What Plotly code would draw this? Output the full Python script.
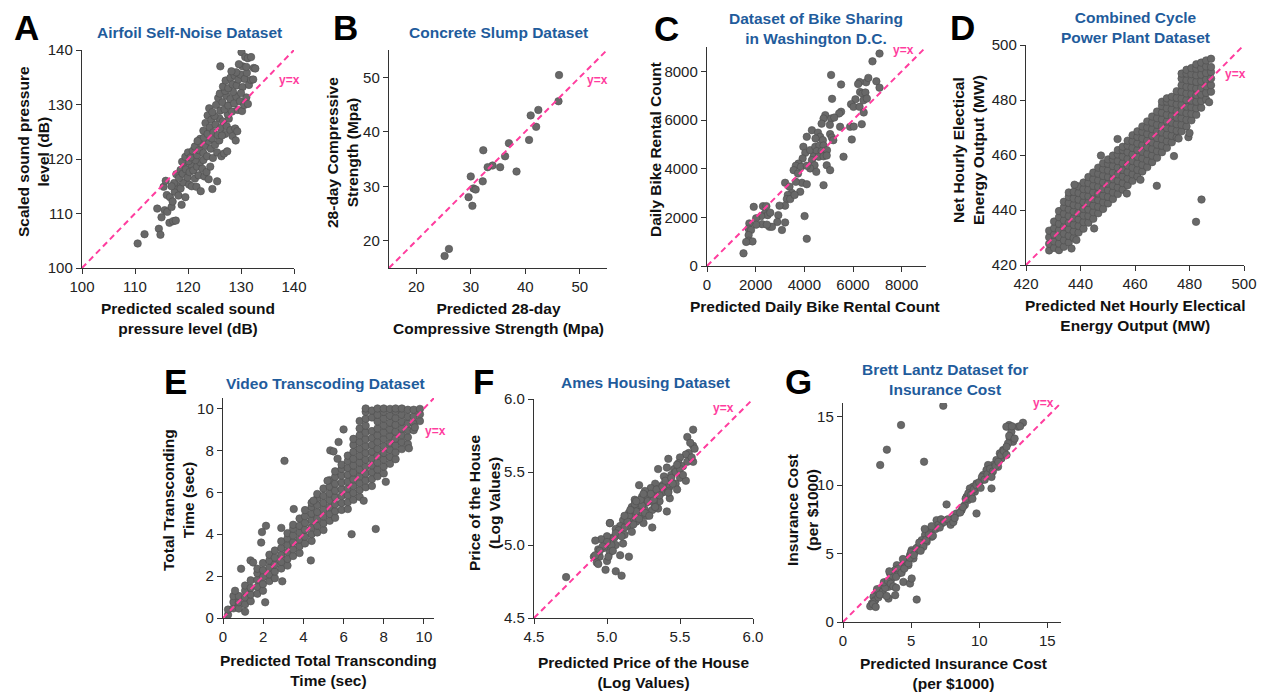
import plotly.graph_objects as go

W, H = 1267, 694
OFF = 8  # the page places the figure 8px in from the top-left corner
PINK = '#ff3d9e'
BLUE = '#1f5c9c'
FONT = 'Liberation Sans, Arial, Helvetica, sans-serif'

# ---------------- A: Airfoil Self-Noise ----------------
A_x = [110.5,111.8,114.5,114.8,
       114.2,115.0,115.6,116.1,116.5,117.2,117.7,118.8,116.9,
       115.4,115.8,116.0,116.6,117.1,117.5,117.9,118.2,118.6,119.1,119.5,120.2,120.7,121.6,122.4,124.6,125.5,117.4,116.9,
       117.8,118.3,118.6,119.0,119.2,119.6,119.9,120.3,120.6,121.0,121.3,121.7,122.0,122.3,122.7,123.1,123.5,123.9,120.1,121.4,118.9,122.9,124.2,
       119.5,120.0,120.5,120.9,121.3,121.7,122.1,122.5,122.9,123.3,123.6,123.9,124.3,124.7,125.1,125.5,125.9,126.3,126.8,127.4,122.3,123.0,124.5,121.8,
       122.9,123.3,123.7,123.7,124.1,124.4,124.8,125.2,125.6,125.9,126.2,126.6,127.0,127.3,127.7,128.0,128.4,128.9,129.3,129.0,125.0,126.4,127.5,
       124.0,124.6,125.3,125.7,126.1,126.5,126.9,127.2,127.6,128.0,128.3,128.7,129.1,129.4,129.8,130.2,130.6,131.0,131.3,126.0,127.0,128.5,
       126.6,127.1,127.6,128.0,128.4,128.8,129.2,129.5,129.9,130.3,130.7,131.1,131.5,130.0,131.9,129.1,128.2,132.3,
       126.1,130.1,130.8,131.3,131.9,132.4,132.7,130.3,129.6,131.0]
A_y = [104.5,106.2,107.2,106.1,
       110.9,109.3,110.6,110.3,108.3,108.6,108.7,111.6,111.2,
       114.9,116.0,113.4,113.0,112.2,114.0,115.1,113.3,114.6,115.7,113.0,115.3,115.0,114.9,114.1,114.5,115.9,115.6,115.0,
       117.2,116.5,118.0,117.3,119.2,118.1,116.6,117.6,119.0,117.9,116.4,118.6,117.0,119.4,118.2,116.8,117.6,116.3,119.6,119.8,119.5,119.8,118.6,
       120.4,121.2,120.3,121.5,122.3,120.7,121.6,122.8,121.1,122.4,120.5,123.3,121.9,120.2,122.6,121.2,123.4,120.5,121.0,121.4,123.7,123.9,123.8,123.3,
       125.2,126.6,124.6,128.0,125.8,127.2,124.9,126.3,124.4,127.5,125.7,126.9,124.6,126.0,127.4,125.3,124.2,125.6,125.1,123.4,127.9,124.3,128.2,
       129.3,128.6,129.9,131.2,128.9,130.4,129.1,131.6,129.8,131.0,128.7,130.2,131.5,129.0,130.6,128.8,129.9,131.3,130.1,132.0,132.5,132.3,
       133.3,134.4,133.0,134.9,133.7,135.3,133.5,134.6,135.5,133.2,134.7,135.8,133.6,132.1,134.5,135.9,136.1,134.6,
       137.0,139.6,138.7,138.5,138.7,136.7,136.6,137.0,137.4,136.9]

# ---------------- B: Concrete Slump ----------------
B_x = [46.2,46.1,42.4,41.0,42.0,40.7,37.0,36.3,32.3,34.0,33.1,35.4,38.4,32.2,30.0,30.5,30.9,29.6,30.3,26.0,25.2]
B_y = [50.4,45.6,44.0,43.0,40.9,38.5,37.9,35.5,36.6,33.8,33.5,33.5,32.7,30.9,31.8,29.6,29.4,28.0,26.4,18.5,17.2]

# ---------------- C: Bike Sharing ----------------
C_x = [7090,6800,5100,6540,6270,6210,6960,6630,5510,7090,
       5140,6290,6390,6510,6100,5920,6430,6570,6020,6270,6440,6360,5880,6030,5950,5610,
       5510,5430,4860,4790,5100,5230,5050,5470,4710,4310,4100,4560,4650,4460,4760,5060,5130,5190,
       3960,4040,4240,4450,4620,4790,4510,4710,4930,4380,4590,4790,4920,4310,4420,4240,4490,4920,5060,
       3930,3760,3650,3860,3560,3740,4100,4790,3900,4100,3650,3210,3390,3490,3320,3280,3420,3830,3600,3210,4010,4100,
       2980,2930,3210,3080,2890,2570,2670,2380,2490,2600,2300,2440,2230,2020,2260,2020,2460,1920,1740,1710,1810,1710,1710,1870,1610,1500]
C_y = [8730,8410,7850,7550,7560,7480,7590,7730,7460,7330,
       6870,7150,7090,7130,6850,6650,6810,6880,6540,6540,6310,5830,5720,5730,5200,4490,
       6340,6270,6200,6060,6060,6100,5800,5720,5850,5580,5310,5480,5310,5240,5170,5420,5280,5170,
       4900,4650,4760,4900,4950,4950,4720,4720,4760,4490,4490,4510,4540,4350,4140,4010,3870,4140,3940,
       4420,4210,4120,4080,3940,3800,4120,3320,3420,3360,3460,3420,3260,3000,2920,2750,2750,3050,2920,2480,2050,1120,
       2480,2090,1790,1480,1810,1610,1610,2160,2090,2190,2460,2460,2050,1960,1720,1700,1700,2430,1750,1530,1480,1270,1040,1010,990,520]

# ---------------- D: Combined Cycle Power Plant (columns of the dense band) ----------------
D_col_x = [428.5,430.3,432.1,433.9,435.7,437.5,439.3,441.1,442.9,444.7,446.5,448.3,450.1,451.9,453.7,455.5,457.3,
           459.1,460.9,462.7,464.5,466.3,468.1,469.9,471.7,473.5,475.3,477.1,478.9,480.7,482.5,484.3,486.1,487.9]
D_col_y = [
    [425.3,427.7,430.1,432.5],
    [426.2,428.6,431.0,433.4,435.8],
    [425.4,427.8,430.2,432.6,435.0,437.4,439.6],
    [426.6,429.0,431.4,433.8,436.2,438.6,441.0,443.0],
    [428.2,430.6,433.0,435.4,437.8,440.2,442.6,444.8,446.4],
    [429.8,432.2,434.6,437.0,439.4,441.8,444.2,446.6],
    [431.8,434.2,436.6,439.0,441.4,443.8,446.2,448.6],
    [433.2,435.6,438.0,440.4,442.8,445.2,447.6,450.0],
    [435.4,437.8,440.2,442.6,445.0,447.4,449.8,452.0],
    [436.8,439.2,441.6,444.0,446.4,448.8,451.2,453.6],
    [438.8,441.2,443.6,446.0,448.4,450.8,453.2,455.4],
    [440.4,442.8,445.2,447.6,450.0,452.4,454.8,457.0],
    [442.4,444.8,447.2,449.6,452.0,454.4,456.8,458.4],
    [444.0,446.4,448.8,451.2,453.6,456.0,458.4,459.8],
    [445.8,448.2,450.6,453.0,455.4,457.8,460.2,461.8],
    [447.4,449.8,452.2,454.6,457.0,459.4,461.8,463.0],
    [449.0,451.4,453.8,456.2,458.6,461.0,463.4,465.2],
    [450.6,453.0,455.4,457.8,460.2,462.6,465.0,467.2],
    [452.2,454.6,457.0,459.4,461.8,464.2,466.6,468.6],
    [454.0,456.4,458.8,461.2,463.6,466.0,468.4,470.4],
    [455.6,458.0,460.4,462.8,465.2,467.6,470.0,472.2],
    [457.4,459.8,462.2,464.6,467.0,469.4,471.8,474.0],
    [459.0,461.4,463.8,466.2,468.6,471.0,473.4,475.8],
    [461.0,463.4,465.8,468.2,470.6,473.0,475.4,477.8,479.4],
    [462.6,465.0,467.4,469.8,472.2,474.6,477.0,479.4,480.6],
    [464.6,467.0,469.4,471.8,474.2,476.6,479.0,481.2],
    [466.4,468.8,471.2,473.6,476.0,478.4,480.8,483.2],
    [468.6,471.0,473.4,475.8,478.2,480.6,483.0,485.4,487.8,489.6],
    [470.4,472.8,475.2,477.6,480.0,482.4,484.8,487.2,489.6,491.0],
    [472.6,475.0,477.4,479.8,482.2,484.6,487.0,489.4,491.6],
    [474.6,477.0,479.4,481.8,484.2,486.6,489.0,491.4,493.0],
    [477.2,479.6,482.0,484.4,486.8,489.2,491.6,493.6],
    [480.2,482.6,485.0,487.4,489.8,492.2,494.4],
    [483.0,485.4,487.8,490.2,492.0,495.0],
]
D_out_x = [447.5,445.0,468.0,474.3,479.6,480.0,482.4,484.4,437.8,453.6,436.7,438.5,457.0,462.0,487.2,476.0]
D_out_y = [459.8,433.3,448.8,459.6,466.5,468.0,435.7,443.8,449.2,465.8,426.0,429.1,446.0,451.0,479.2,466.0]

# ---------------- E: Video Transcoding (columns of the dense band) ----------------
E_col_x = [0.25,0.52,0.79,1.10,1.38,1.71,1.99,2.31,2.58,2.90,3.21,3.49,3.81,4.08,4.41,4.69,5.00,
           5.31,5.58,5.90,6.21,6.49,6.80,7.10,7.41,7.69,8.00,8.31,8.59,8.90,9.20,9.49,9.80]
E_col_y = [
    [0.15,0.40],
    [0.46,0.76,1.05],
    [0.45,0.75,1.05],
    [0.66,0.98,1.30,1.55],
    [0.80,1.12,1.44,1.80],
    [1.16,1.49,1.82,2.14,2.35],
    [1.30,1.62,1.95,2.28,2.62],
    [1.76,2.08,2.41,2.74,3.02],
    [1.90,2.22,2.55,2.88,3.22],
    [2.36,2.68,3.01,3.34,3.66],
    [2.50,2.82,3.15,3.48,3.80,4.05],
    [2.96,3.28,3.61,3.94,4.26,4.45],
    [3.10,3.42,3.75,4.08,4.40,4.75],
    [3.56,3.88,4.21,4.54,4.86,5.15],
    [3.68,4.00,4.33,4.66,4.98,5.30,5.50],
    [4.08,4.41,4.74,5.06,5.39,5.72,5.92],
    [4.20,4.52,4.85,5.18,5.50,5.83,6.18],
    [4.64,4.96,5.29,5.62,5.94,6.27,6.58],
    [4.78,5.10,5.43,5.76,6.08,6.41,6.74,7.00],
    [5.16,5.49,5.82,6.14,6.47,6.80,7.12,7.32],
    [5.20,5.53,5.86,6.18,6.51,6.84,7.16,7.49,7.75],
    [5.64,5.97,6.30,6.62,6.95,7.28,7.60,7.93,8.26,8.55],
    [5.78,6.11,6.44,6.76,7.09,7.42,7.74,8.07,8.40,8.72,9.05,9.40],
    [6.24,6.57,6.90,7.22,7.55,7.88,8.20,8.53,8.86,9.18,9.51,9.84,10.0],
    [6.30,6.63,6.96,7.28,7.61,7.94,8.26,8.59,8.92,9.57,9.90],
    [6.76,7.09,7.42,7.74,8.07,8.40,8.72,9.05,9.38,9.70,10.0],
    [6.90,7.23,7.56,7.88,8.21,8.54,8.86,9.19,9.52,9.84,10.0],
    [7.36,7.69,8.02,8.34,8.67,9.00,9.32,9.65,9.98],
    [7.58,7.91,8.24,8.56,8.89,9.22,9.54,9.87,10.0],
    [8.06,8.39,8.72,9.04,9.37,9.70,10.0],
    [8.30,8.63,8.96,9.28,9.61,9.94],
    [8.96,9.29,9.62,9.94],
    [9.40,9.72,9.98],
]
E_out_x = [3.06,6.00,5.75,5.34,5.50,5.70,3.52,2.14,1.94,1.90,2.90,7.60,6.40,2.10,1.37,1.50,0.90,0.60,9.25,9.55,4.37,2.95,4.50,5.20,7.00,8.10,1.10]
E_out_y = [7.50,9.00,8.40,8.00,7.95,7.60,5.20,4.40,4.10,3.60,4.30,4.25,4.00,0.75,2.75,2.65,2.35,1.30,8.10,9.10,2.75,1.75,5.60,6.55,5.60,6.50,0.30]

# ---------------- F: Ames Housing ----------------
F_x = [5.59,5.55,5.59,5.56,5.54,5.59,5.50,5.49,5.42,5.52,5.46,5.41,5.35,5.39,5.44,5.50,5.54,5.47,5.43,5.38,
       5.33,5.34,5.30,5.26,5.22,5.24,5.28,5.33,5.38,5.42,5.48,5.43,5.36,5.32,5.27,5.23,5.19,5.17,5.22,5.26,
       5.31,5.35,5.41,5.27,5.23,5.18,5.15,5.11,5.16,5.20,5.25,5.31,5.14,5.09,5.06,5.02,5.08,5.12,5.17,5.04,
       5.00,4.96,5.01,5.06,5.11,4.98,4.92,4.94,5.02,5.09,5.15,4.95,4.91,4.93,5.00,
       4.72,4.94,4.99,5.06,5.10,5.02,
       5.15,5.20,5.24,5.28,5.32,5.26,5.22,5.18,5.12,5.08,5.05,5.03,5.00,4.97,5.06,5.10,5.14,5.19,5.23,5.30,
       5.34,5.38,5.36,5.40,5.44,5.47,5.45,5.50,5.52,5.48,5.55,5.42,5.33,5.29,5.25,5.20,5.16,5.12,4.95,5.01,
       5.04,4.92,5.58,5.60,5.57]
F_y = [5.79,5.74,5.68,5.63,5.62,5.57,5.60,5.56,5.59,5.54,5.52,5.53,5.52,5.47,5.48,5.46,5.44,5.42,5.40,5.41,
       5.42,5.38,5.39,5.37,5.41,5.33,5.33,5.33,5.36,5.37,5.38,5.32,5.30,5.29,5.29,5.30,5.31,5.26,5.25,5.24,
       5.24,5.25,5.23,5.20,5.20,5.21,5.22,5.17,5.16,5.16,5.15,5.12,5.13,5.13,5.11,5.15,5.07,5.07,5.09,5.05,
       5.06,5.04,5.00,5.00,5.01,4.98,5.03,4.97,4.95,4.93,4.92,4.92,4.92,4.88,4.89,
       4.78,4.87,4.83,4.82,4.79,5.15,
       5.20,5.23,5.27,5.30,5.31,5.22,5.18,5.14,5.12,5.10,5.05,5.00,5.02,4.99,5.08,5.06,5.16,5.28,5.31,5.35,
       5.38,5.40,5.34,5.44,5.46,5.50,5.42,5.52,5.48,5.55,5.57,5.36,5.26,5.20,5.35,5.30,5.24,5.20,4.96,4.92,
       4.96,4.93,5.60,5.66,5.70]

# ---------------- G: Insurance Cost ----------------
G_x = [7.36,4.26,3.22,2.73,5.95,5.41,9.80,10.90,7.60,
       13.21,12.85,12.19,11.99,12.36,12.24,12.48,12.11,11.75,11.51,11.87,11.63,11.26,11.02,11.38,10.65,10.53,10.77,10.29,10.16,
       9.80,9.55,9.31,9.68,9.07,9.19,8.94,8.70,8.33,8.09,7.85,7.60,7.24,6.99,6.87,6.63,6.39,6.02,5.78,6.51,6.14,5.53,5.29,5.04,
       4.92,5.17,4.68,4.43,4.80,4.19,3.95,3.83,4.07,3.46,3.58,3.22,2.97,3.34,2.73,2.48,2.85,2.24,2.36,2.12,2.00,4.43,4.92,5.04,3.83,3.34,
       2.30,2.60,2.50,2.90,3.10,3.00,3.30,3.50,3.60,3.70,3.90,4.10,4.30,4.50,4.60,4.80,4.90,5.00,5.20,4.40,3.40,2.70,2.20,2.40,3.90,3.20,
       5.40,5.60,5.90,6.10,6.30,6.60,6.80,7.00,7.20,7.40,7.70,7.90,8.10,8.20,6.00,6.50,5.70,7.10,
       8.60,8.80,9.00,9.20,9.40,9.60,9.80,10.00,10.20,10.40,10.60,10.80,11.00,11.20,11.40,11.60,11.80,12.00,12.20,12.00,10.90,10.10,9.50,12.60,12.40,13.00]
G_y = [15.80,14.39,12.59,11.47,11.71,1.64,7.93,9.76,8.59,
       14.56,14.27,14.39,14.27,13.90,13.42,13.17,13.05,12.56,12.32,12.32,11.95,11.83,11.47,11.34,11.47,11.10,10.86,10.74,10.37,
       10.12,9.88,9.76,9.52,9.15,8.91,8.54,8.17,7.93,7.57,7.32,7.44,7.20,6.96,7.44,6.83,6.59,6.35,5.98,6.22,5.86,5.49,5.13,5.25,
       4.88,4.64,4.52,4.27,4.15,4.03,4.15,3.79,3.54,3.54,3.18,2.93,2.69,2.57,2.45,2.20,2.08,1.84,1.59,1.35,1.15,2.93,2.81,3.18,1.96,1.71,
       1.50,1.80,2.40,2.20,2.50,2.90,3.00,2.80,3.40,2.60,3.30,3.90,3.60,3.90,4.50,4.30,4.70,5.10,4.90,4.60,3.70,2.00,1.30,1.10,2.50,1.90,
       5.40,5.80,5.50,6.00,6.40,6.30,6.80,7.10,7.50,7.30,7.50,7.10,7.30,7.60,6.80,7.00,5.20,6.90,
       8.00,8.40,9.00,9.40,9.30,9.70,10.00,10.20,10.60,10.40,10.80,11.20,11.00,11.40,11.70,12.20,12.50,12.80,13.60,12.20,10.60,9.80,9.00,13.40,14.30,14.30]

# flatten the column-stored dense panels
D_x = [x for x, col in zip(D_col_x, D_col_y) for _ in col] + D_out_x
D_y = [y for col in D_col_y for y in col] + D_out_y
E_x = [x for x, col in zip(E_col_x, E_col_y) for _ in col] + E_out_x
E_y = [y for col in E_col_y for y in col] + E_out_y

# ---------------- panel layout (screen pixel boxes: left, right, top, bottom) ----------------
panels = [
    dict(letter='A', x=A_x, y=A_y, rng=[100, 140], ticks=[100, 110, 120, 130, 140], labels=['100', '110', '120', '130', '140'],
         box=(82, 294, 50, 268), title='Airfoil Self-Noise Dataset', tpos=(189, 33), lpos=(26, 28),
         xt='Predicted scaled sound<br>pressure level (dB)', xtpos=(188, 318),
         yt='Scaled sound pressure<br>level (dB)', ytpos=(34, 152), yx=(289, 80)),
    dict(letter='B', x=B_x, y=B_y, rng=[15, 55], ticks=[20, 30, 40, 50], labels=['20', '30', '40', '50'],
         box=(389, 607, 50, 268), title='Concrete Slump Dataset', tpos=(498, 33), lpos=(345, 28),
         xt='Predicted 28-day<br>Compressive Strength (Mpa)', xtpos=(498, 318),
         yt='28-day Compressive<br>Strength (Mpa)', ytpos=(342, 153), yx=(597, 80)),
    dict(letter='C', x=C_x, y=C_y, rng=[0, 9000], ticks=[0, 2000, 4000, 6000, 8000], labels=['0', '2000', '4000', '6000', '8000'],
         box=(707, 926, 47, 266), title='Dataset of Bike Sharing<br>in Washington D.C.', tpos=(816, 29), lpos=(666, 29),
         xt='Predicted Daily Bike Rental Count', xtpos=(815, 306),
         yt='Daily Bike Rental Count', ytpos=(655, 150), yx=(903, 50)),
    dict(letter='D', x=D_x, y=D_y, rng=[420, 500], ticks=[420, 440, 460, 480, 500], labels=['420', '440', '460', '480', '500'],
         box=(1026, 1244, 45, 265), title='Combined Cycle<br>Power Plant Dataset', tpos=(1135, 27), lpos=(963, 28),
         xt='Predicted Net Hourly Electical<br>Energy Output (MW)', xtpos=(1135, 315),
         yt='Net Hourly Electical<br>Energy Output (MW)', ytpos=(968, 150), yx=(1235, 74)),
    dict(letter='E', x=E_x, y=E_y, rng=[0, 10.5], ticks=[0, 2, 4, 6, 8, 10], labels=['0', '2', '4', '6', '8', '10'],
         box=(223, 434, 398, 618), title='Video Transcoding Dataset', tpos=(325, 383), lpos=(175, 381),
         xt='Predicted Total Transconding<br>Time (sec)', xtpos=(328, 670),
         yt='Total Transconding<br>Time (sec)', ytpos=(178, 500), yx=(435, 431)),
    dict(letter='F', x=F_x, y=F_y, rng=[4.5, 6.0], ticks=[4.5, 5.0, 5.5, 6.0], labels=['4.5', '5.0', '5.5', '6.0'],
         box=(534, 753, 399, 618), title='Ames Housing Dataset', tpos=(645, 382), lpos=(483, 381),
         xt='Predicted Price of the House<br>(Log Values)', xtpos=(643, 672),
         yt='Price of the House<br>(Log Values)', ytpos=(484, 503), yx=(723, 408)),
    dict(letter='G', x=G_x, y=G_y, rng=[0, 16], ticks=[0, 5, 10, 15], labels=['0', '5', '10', '15'],
         box=(843, 1061, 403, 622), title='Brett Lantz Dataset for<br>Insurance Cost', tpos=(945, 379), lpos=(798, 381),
         xt='Predicted Insurance Cost<br>(per $1000)', xtpos=(953, 673),
         yt='Insurance Cost<br>(per $1000)', ytpos=(802, 510), yx=(1043, 403)),
]


def px(xp):
    return (xp - OFF) / W


def py(yp):
    return 1 - (yp - OFF) / H


fig = go.Figure()
annotations = []
layout_axes = {}

for i, p in enumerate(panels, start=1):
    sfx = '' if i == 1 else str(i)
    xa, ya = 'x' + sfx, 'y' + sfx
    fig.add_trace(go.Scatter(
        x=p['x'], y=p['y'], mode='markers', xaxis=xa, yaxis=ya, showlegend=False, hoverinfo='skip',
        marker=dict(size=7.5, color='#686868', line=dict(color='#4f4f4f', width=0.6))))
    lo, hi = p['rng']
    fig.add_trace(go.Scatter(
        x=[lo, hi], y=[lo, hi], mode='lines', xaxis=xa, yaxis=ya, showlegend=False, hoverinfo='skip',
        line=dict(color=PINK, width=2, dash='6px,4px')))
    l, r, t, b = p['box']
    common = dict(range=p['rng'], tickvals=p['ticks'], ticktext=p['labels'], showline=True, linecolor='#333333',
                  linewidth=1.4, ticks='outside', ticklen=5, tickwidth=1.4, tickcolor='#333333', showgrid=False,
                  zeroline=False, fixedrange=True, automargin=False,
                  tickfont=dict(size=15, color='#222222', family=FONT))
    layout_axes['xaxis' + sfx] = dict(domain=[px(l), px(r)], anchor=ya, **common)
    layout_axes['yaxis' + sfx] = dict(domain=[py(b), py(t)], anchor=xa, **common)

    annotations.append(dict(text=p['letter'], x=px(p['lpos'][0]), y=py(p['lpos'][1]), xref='paper', yref='paper',
                            showarrow=False, xanchor='center', yanchor='middle',
                            font=dict(size=35, color='#000000', family=FONT, weight='bold')))
    annotations.append(dict(text=p['title'], x=px(p['tpos'][0]), y=py(p['tpos'][1]), xref='paper', yref='paper',
                            showarrow=False, xanchor='center', yanchor='middle',
                            font=dict(size=15.5, color=BLUE, family=FONT, weight='bold')))
    annotations.append(dict(text=p['xt'], x=px(p['xtpos'][0]), y=py(p['xtpos'][1]), xref='paper', yref='paper',
                            showarrow=False, xanchor='center', yanchor='middle',
                            font=dict(size=15.5, color='#111111', family=FONT, weight='bold')))
    annotations.append(dict(text=p['yt'], x=px(p['ytpos'][0]), y=py(p['ytpos'][1]), xref='paper', yref='paper',
                            showarrow=False, xanchor='center', yanchor='middle', textangle=-90,
                            font=dict(size=15.5, color='#111111', family=FONT, weight='bold')))
    annotations.append(dict(text='y=x', x=px(p['yx'][0]), y=py(p['yx'][1]), xref='paper', yref='paper',
                            showarrow=False, xanchor='center', yanchor='middle',
                            font=dict(size=12, color=PINK, family=FONT, weight='bold')))

fig.update_layout(
    width=W, height=H, margin=dict(l=0, r=0, t=0, b=0, pad=0, autoexpand=False),
    paper_bgcolor='white', plot_bgcolor='white',
    font=dict(family=FONT),
    annotations=annotations,
    **layout_axes)

fig.write_html('out.html')
